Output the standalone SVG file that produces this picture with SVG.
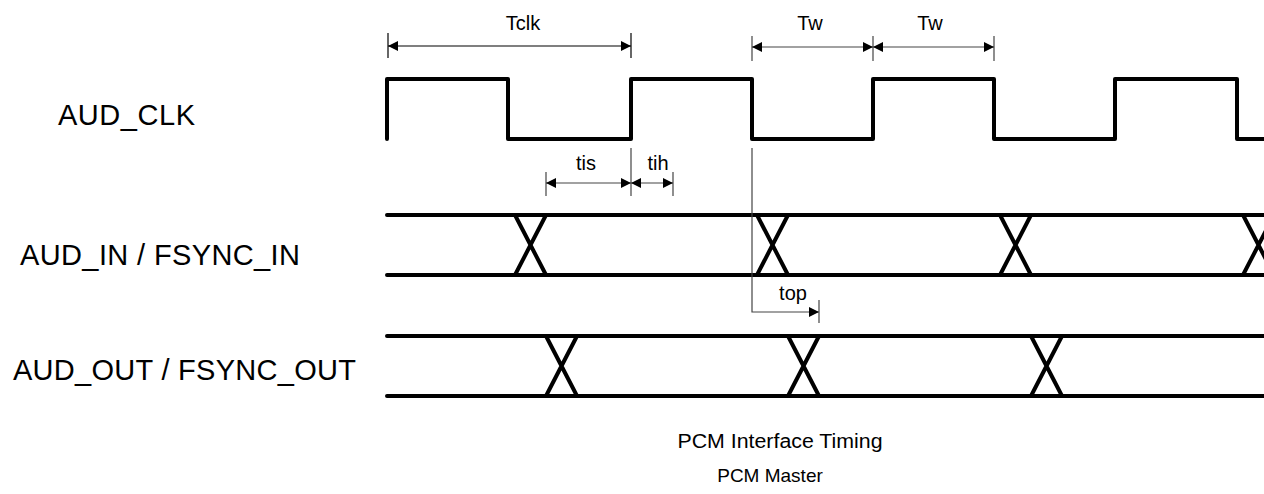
<svg xmlns="http://www.w3.org/2000/svg" width="1264" height="494" viewBox="0 0 1264 494">
<style>
.sig{fill:none;stroke:#000;stroke-width:4;stroke-linejoin:round;stroke-linecap:round}
.dim{fill:none;stroke:#444;stroke-width:1.2}
.dimk{fill:none;stroke:#000;stroke-width:1.2}
.big{font-family:"Liberation Sans",Arial,sans-serif;font-size:29px;fill:#000}
.sm{font-family:"Liberation Sans",Arial,sans-serif;font-size:20px;fill:#000;text-anchor:middle}
.cap{font-family:"Liberation Sans",Arial,sans-serif;font-size:19px;fill:#000;text-anchor:middle}
</style>
<defs>
<marker id="arr" viewBox="0 0 10 10" refX="10" refY="5" markerWidth="12" markerHeight="10" markerUnits="userSpaceOnUse" orient="auto-start-reverse">
<path d="M0,0 L10,5 L0,10 Z" fill="#000"/>
</marker>
</defs>
<rect width="1264" height="494" fill="#fff"/>

<g id="labels">
<text class="big" x="58" y="125" textLength="137" lengthAdjust="spacing">AUD_CLK</text>
<text class="big" x="20" y="265" textLength="280" lengthAdjust="spacing">AUD_IN / FSYNC_IN</text>
<text class="big" x="13" y="380" textLength="343" lengthAdjust="spacing">AUD_OUT / FSYNC_OUT</text>
</g>

<g id="aud_clk">
<path class="sig" d="M387,139 V79 H508 V139 H631 V79 H752 V139 H873 V79 H994 V139 H1115 V79 H1237 V139 H1270"/>
</g>

<g id="aud_in">
<path class="sig" d="M387,215 H1270 M387,275 H1270"/>
<path class="sig" d="M515,215 L546,275 M515,275 L546,215"/>
<path class="sig" d="M757,215 L788,275 M757,275 L788,215"/>
<path class="sig" d="M1000,215 L1031,275 M1000,275 L1031,215"/>
<path class="sig" d="M1243,215 L1274,275 M1243,275 L1274,215"/>
</g>

<g id="aud_out">
<path class="sig" d="M387,336 H1270 M387,396 H1270"/>
<path class="sig" d="M546,336 L577,396 M546,396 L577,336"/>
<path class="sig" d="M788,336 L819,396 M788,396 L819,336"/>
<path class="sig" d="M1031,336 L1062,396 M1031,396 L1062,336"/>
</g>

<g id="connectors">
<line class="dimk" x1="388" y1="33" x2="388" y2="58"/>
<line class="dimk" x1="631" y1="33" x2="631" y2="58"/>
<line class="dimk" x1="388" y1="46" x2="631" y2="46" marker-start="url(#arr)" marker-end="url(#arr)"/>
<line class="dim" x1="752" y1="36" x2="752" y2="61"/>
<line class="dim" x1="873" y1="36" x2="873" y2="61"/>
<line class="dim" x1="994" y1="36" x2="994" y2="61"/>
<line class="dim" x1="752" y1="47" x2="873" y2="47" marker-start="url(#arr)" marker-end="url(#arr)"/>
<line class="dim" x1="873" y1="47" x2="994" y2="47" marker-start="url(#arr)" marker-end="url(#arr)"/>
<line class="dim" x1="546" y1="172" x2="546" y2="196"/>
<line class="dim" x1="631" y1="148" x2="631" y2="196"/>
<line class="dim" x1="673" y1="172" x2="673" y2="196"/>
<line class="dim" x1="546" y1="183" x2="631" y2="183" marker-start="url(#arr)" marker-end="url(#arr)"/>
<line class="dim" x1="631" y1="183" x2="673" y2="183" marker-start="url(#arr)" marker-end="url(#arr)"/>
<path class="dim" d="M752,148 V312 H819" marker-end="url(#arr)"/>
<line class="dim" x1="819" y1="300" x2="819" y2="323"/>
</g>

<g id="dim_labels">
<text class="sm" x="523" y="30">Tclk</text>
<text class="sm" x="810" y="30">Tw</text>
<text class="sm" x="930" y="30">Tw</text>
<text class="sm" x="586" y="170">tis</text>
<text class="sm" x="658" y="170">tih</text>
<text class="sm" x="793" y="300">top</text>
</g>

<g id="caption">
<text class="cap" x="780" y="448" style="font-size:20px" textLength="205" lengthAdjust="spacingAndGlyphs">PCM Interface Timing</text>
<text class="cap" x="770" y="482">PCM Master</text>
</g>
</svg>
